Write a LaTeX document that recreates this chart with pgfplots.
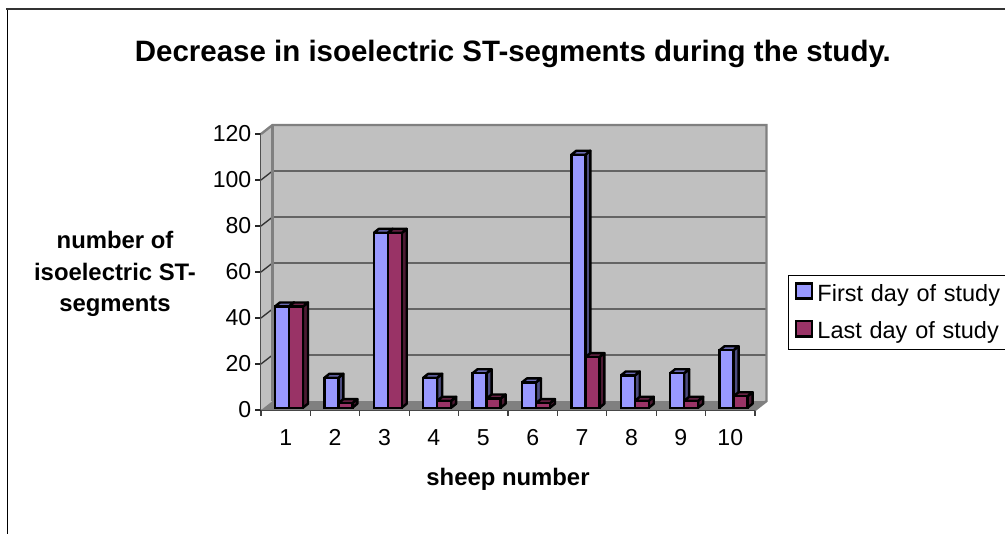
\documentclass[border=0pt]{standalone}
\usepackage{fontspec}
\setmainfont{Liberation Sans}
\usepackage{pgfplots}
\pgfplotsset{compat=1.18}
\definecolor{wall}{HTML}{C0C0C0}
\definecolor{floorc}{HTML}{808080}
\definecolor{blueF}{HTML}{9999FF}
\definecolor{blueS}{HTML}{4D4D80}
\definecolor{blueT}{HTML}{6B6BB3}
\definecolor{redF}{HTML}{993366}
\definecolor{redS}{HTML}{4D1A33}
\definecolor{redT}{HTML}{6B2447}
\newcommand\sides[4]{% left x, value, side colour, top colour
  \pgfmathsetmacro\xl{#1}
  \pgfmathsetmacro\xr{#1+0.283}
  \pgfmathsetmacro\xld{#1+0.101}
  \pgfmathsetmacro\xrd{#1+0.283+0.101}
  \pgfmathsetmacro\yt{#2+1}
  \pgfmathsetmacro\ytd{#2+1+1.74}
  \addplot[forget plot,draw=black,line width=1.8pt,line join=round,fill=#3,mark=none]
    coordinates {(\xr,1) (\xrd,2.74) (\xrd,\ytd) (\xr,\yt) (\xr,1)};
  \addplot[forget plot,draw=black,line width=1.8pt,line join=round,fill=#4,mark=none]
    coordinates {(\xl,\yt) (\xld,\ytd) (\xrd,\ytd) (\xr,\yt) (\xl,\yt)};
}
\newcommand\gl[1]{%
  \pgfmathsetmacro\yb{#1+3.9}
  \addplot[forget plot,draw=black!80,line width=1pt,mark=none]
    coordinates {(0.5,#1) (0.733,\yb) (10.733,\yb)};
}
\begin{document}
\begin{tikzpicture}
\useasboundingbox (-261*0.75pt,-123*0.75pt) rectangle (744*0.75pt,410*0.75pt);
\draw[black,line width=1.1pt] (-253.5*0.75pt,-124*0.75pt) -- (-253.5*0.75pt,400.5*0.75pt);
\draw[black!80,line width=1.5pt] (-254.5*0.75pt,400.5*0.75pt) -- (745*0.75pt,400.5*0.75pt);
\begin{axis}[
  scale only axis,
  width=494*0.75pt, height=276*0.75pt,
  xmin=0.5, xmax=10.5, ymin=0, ymax=120,
  clip=false,
  axis x line=bottom, axis y line=left,
  axis line style={-,draw=black!75,line width=1.1pt},
  xtick={1,...,10},
  minor xtick={0.5,1.5,...,10.5},
  ytick={0,20,...,120},
  tick align=outside,
  major tick length=0pt,
  minor tick length=4.2pt,
  xtick style={draw=none},
  minor x tick style={draw=black!75,line width=0.8pt},
  ytick style={draw=black!85,line width=0.8pt},
  y tick style={/pgfplots/major tick length=4.2pt},
  tick label style={font=\fontsize{17.3}{19}\selectfont},
  /pgf/number format/assume math mode=true,
  xticklabel style={yshift=-15*0.75pt},
  yticklabel style={xshift=-5*0.75pt},
  every axis title shift=0pt,
  title={Decrease in isoelectric ST-segments during the study.},
  title style={font=\bfseries\fontsize{22.1}{25}\selectfont,at={(rel axis cs:0.510,1.290)},anchor=center},
  xlabel={sheep number},
  xlabel style={font=\bfseries\fontsize{17.9}{20}\selectfont,at={(rel axis cs:0.5,-0.25)},anchor=center},
  ylabel={number of\\isoelectric ST-\\segments},
  ylabel style={font=\bfseries\fontsize{17.9}{23.3}\selectfont,rotate=-90,align=center,at={(rel axis cs:-0.2955,0.493)},anchor=center},
  legend style={at={(rel axis cs:1.0668,0.489)},anchor=north west,draw=black,line width=0.6pt,
    font=\fontsize{17.6}{20}\selectfont,row sep=10pt,
    nodes={text width=230pt,align=left},inner xsep=5pt,inner ysep=4.5pt,
    /tikz/every odd column/.append style={column sep=1pt}},
  legend cell align=left,
  legend image code/.code={},
]
% walls and floor
\addplot[forget plot,draw=none,fill=wall,mark=none] coordinates {(0.733,3.9) (10.733,3.9) (10.733,123.9) (0.733,123.9) (0.733,3.9)};
\addplot[forget plot,draw=none,fill=wall,mark=none] coordinates {(0.5,0) (0.733,3.9) (0.733,123.9) (0.5,120) (0.5,0)};
\addplot[forget plot,draw=none,fill=floorc,mark=none] coordinates {(0.5,0) (0.733,3.9) (10.733,3.9) (10.5,0) (0.5,0)};
\gl{20}\gl{40}\gl{60}\gl{80}\gl{100}
\addplot[forget plot,draw=floorc,line width=1.8pt,mark=none] coordinates {(0.5,120) (0.733,123.9) (10.733,123.9) (10.733,3.9) (10.5,0)};
\addplot[forget plot,draw=floorc,line width=1.8pt,mark=none] coordinates {(0.733,3.9) (0.733,123.9)};
% first series
\pgfplotsforeachungrouped \c/\v in {0.783/44,1.783/13,2.783/76,3.783/13,4.783/15,5.783/11,6.783/110,7.783/14,8.783/15,9.783/25}{\sides{\c}{\v}{blueS}{blueT}}
\addplot[ybar,bar width=14*0.75pt,bar shift=-3.7*0.75pt,yshift=2.3*0.75pt,draw=black,line width=1.8pt,fill=blueF,
  legend image code/.code={\draw[draw=black,line width=1.8pt,fill=blueF] (0pt,-5.5pt) rectangle (12pt,6pt);}]
  coordinates {(1,44) (2,13) (3,76) (4,13) (5,15) (6,11) (7,110) (8,14) (9,15) (10,25)};
\addlegendentry{First day of study}
% last series
\pgfplotsforeachungrouped \c/\v in {1.067/44,2.067/2,3.067/76,4.067/3,5.067/4,6.067/2,7.067/22,8.067/3,9.067/3,10.067/5}{\sides{\c}{\v}{redS}{redT}}
\addplot[ybar,bar width=14*0.75pt,bar shift=10.3*0.75pt,yshift=2.3*0.75pt,draw=black,line width=1.8pt,fill=redF,
  legend image code/.code={\draw[draw=black,line width=1.8pt,fill=redF] (0pt,-5.5pt) rectangle (12pt,6pt);}]
  coordinates {(1,44) (2,2) (3,76) (4,3) (5,4) (6,2) (7,22) (8,3) (9,3) (10,5)};
\addlegendentry{Last day of study}
\end{axis}
\end{tikzpicture}
\end{document}
